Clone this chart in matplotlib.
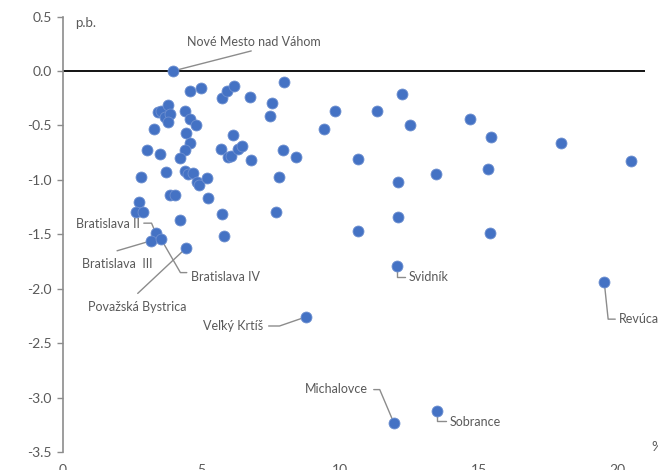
import matplotlib
matplotlib.use('Agg')
import matplotlib.pyplot as plt
import numpy as np

plt.rcParams['font.family'] = ['Lato', 'DejaVu Sans']

# unlabeled districts (x = %, y = p.b.)
x_vals = [4.58, 4.99, 5.73, 5.93, 6.17, 6.74, 7.53, 7.98, 7.47, 9.41, 9.83,
          3.44, 3.54, 3.80, 3.70, 3.86, 3.80,
          3.29, 4.40, 4.57, 4.80, 4.44, 4.60, 4.42, 4.21,
          3.04, 3.49, 2.82, 3.72, 4.40, 4.50, 4.68, 4.84, 4.91, 5.20, 5.25,
          3.86, 4.04, 4.22, 2.75, 2.64, 2.90, 5.75, 5.70, 6.13, 5.97, 6.05,
          6.31, 6.45, 6.80, 7.95, 8.41, 7.79, 7.68, 5.81,
          12.24, 11.32, 12.54, 14.68, 15.45, 17.98, 20.49, 10.64, 12.09,
          13.47, 15.35, 12.09, 10.64, 15.40]
y_vals = [-0.18, -0.16, -0.25, -0.18, -0.14, -0.24, -0.29, -0.10, -0.41, -0.53, -0.37,
          -0.38, -0.37, -0.31, -0.42, -0.40, -0.47,
          -0.53, -0.37, -0.44, -0.50, -0.57, -0.66, -0.73, -0.80,
          -0.73, -0.76, -0.97, -0.93, -0.92, -0.95, -0.94, -1.02, -1.05, -0.98, -1.17,
          -1.14, -1.14, -1.37, -1.20, -1.30, -1.30, -1.31, -0.72, -0.59, -0.79, -0.78,
          -0.72, -0.69, -0.82, -0.73, -0.79, -0.97, -1.30, -1.52,
          -0.21, -0.37, -0.50, -0.44, -0.61, -0.66, -0.83, -0.81, -1.02,
          -0.95, -0.90, -1.34, -1.47, -1.49]

# labeled districts
names = ['Nové Mesto nad Váhom', 'Bratislava II', 'Bratislava  III', 'Bratislava IV',
         'Považská Bystrica', 'Veľký Krtíš', 'Michalovce', 'Svidník', 'Revúca', 'Sobrance']
name_x = [3.98, 3.35, 3.18, 3.53, 4.43, 8.76, 11.94, 12.04, 19.54, 13.49]
name_y = [0.00, -1.49, -1.56, -1.54, -1.63, -2.26, -3.23, -1.79, -1.94, -3.12]

# label layout in pixels: text offset, alignment, leader start offset, connection style
text_off = [(14, 29), (-16, 9), (-34, -23), (30, -38), (-48, -59),
            (-43, -9), (-26, 34), (12, -11), (15, -37), (13, -11)]
text_ha = ['left', 'right', 'center', 'left', 'center', 'right', 'right', 'left', 'left', 'left']
line_off = [(78, 20), (-12, 10), (-34, -10), (26, -34), (-48, -45),
            (-37, -9), (-20, 33), (8, -11), (11, -37), (9, -10)]
conn = ['arc3', 'angle,angleA=0,angleB=113,rad=0', 'arc3', 'angle,angleA=0,angleB=-60,rad=0',
        'arc3', 'angle,angleA=0,angleB=19,rad=0', 'angle,angleA=0,angleB=113,rad=0',
        'angle,angleA=0,angleB=90,rad=0', 'angle,angleA=0,angleB=96,rad=0',
        'angle,angleA=0,angleB=90,rad=0']

blue = '#4472C4'
grey_txt = '#595959'
px = 0.72  # pixels -> points at 100 dpi

fig = plt.figure(figsize=(6.58, 4.70), dpi=100)
ax = fig.add_axes([63 / 658, 18 / 470, 581.7 / 658, 435.5 / 470])

ax.axhline(0, color='black', lw=1.3, zorder=1)
ax.scatter(x_vals + name_x, y_vals + name_y, s=62, color=blue, edgecolors='#6d8fd0',
           linewidths=0.6, zorder=3)

for i, name in enumerate(names):
    ax.annotate('', xy=(name_x[i], name_y[i]),
                xytext=(line_off[i][0] * px, line_off[i][1] * px), textcoords='offset points',
                arrowprops=dict(arrowstyle='-', color='#8c8c8c', lw=1, shrinkA=0, shrinkB=2.5,
                                connectionstyle=conn[i]), zorder=2)
    ax.annotate(name, xy=(name_x[i], name_y[i]),
                xytext=(text_off[i][0] * px, text_off[i][1] * px), textcoords='offset points',
                ha=text_ha[i], va='center', fontsize=9, color=grey_txt)

ax.set_xlim(0, 21)
ax.set_ylim(-3.5, 0.5)
ax.set_xticks([0, 5, 10, 15, 20])
ax.set_yticks(np.arange(-3.5, 0.51, 0.5))
ax.set_yticklabels(['%.1f' % v for v in np.arange(-3.5, 0.51, 0.5)])
ax.tick_params(axis='y', colors=grey_txt, labelsize=10, length=4, width=1, direction='out', pad=4)
ax.tick_params(axis='x', colors=grey_txt, labelsize=10, length=0, pad=9)
ax.tick_params(axis='y', color='#8c8c8c')

for side in ['top', 'right', 'bottom']:
    ax.spines[side].set_visible(False)
ax.spines['left'].set_color('#8c8c8c')
ax.spines['left'].set_linewidth(1.2)

ax.text(12 / 581.7, 0.985, 'p.b.', transform=ax.transAxes, ha='left', va='center',
        fontsize=9.5, color=grey_txt)
fig.text(651 / 658, 1 - 447 / 470, '%', ha='left', va='center', fontsize=10, color=grey_txt)

fig.savefig('out.png', dpi=100)
